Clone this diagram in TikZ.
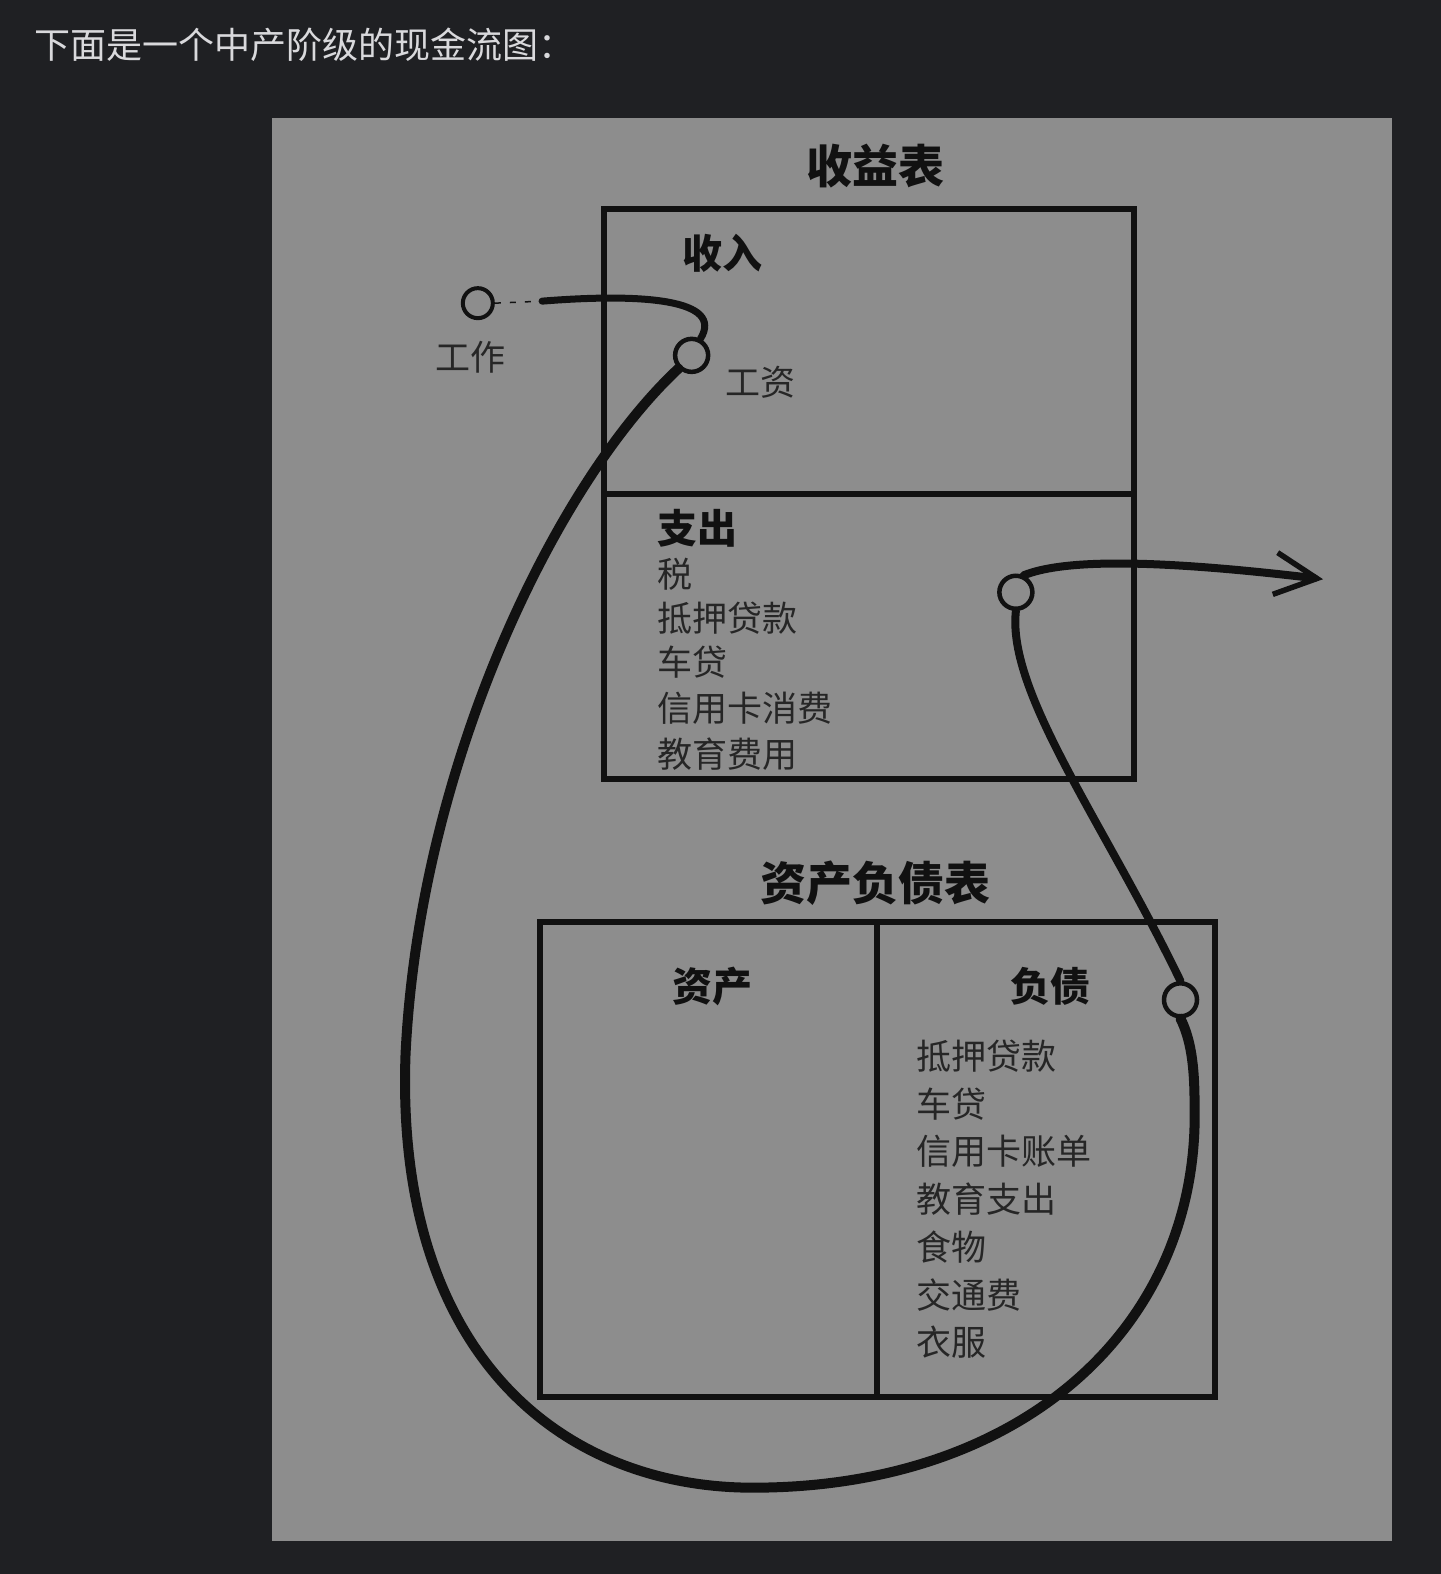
\documentclass[tikz,border=0pt]{standalone}
\usepackage{fontspec}
\newfontfamily\cjk{Noto Sans CJK SC}
\usetikzlibrary{arrows.meta}
\definecolor{bgdark}{HTML}{1F2023}
\definecolor{panel}{HTML}{8D8D8D}
\definecolor{hdr}{HTML}{D9D9DC}
\definecolor{ink}{HTML}{111111}
\definecolor{itemink}{HTML}{262626}
\tikzset{
  headtxt/.style={font=\cjk\bfseries\fontsize{46}{50}\selectfont, text=ink, inner sep=0},
  subtxt/.style={font=\cjk\bfseries\fontsize{40}{44}\selectfont, text=ink, inner sep=0},
  itemtxt/.style={font=\cjk\fontsize{35}{40}\selectfont, text=itemink, anchor=west, inner sep=0},
  lbltxt/.style={font=\cjk\fontsize{35}{40}\selectfont, text=itemink, inner sep=0},
  boxline/.style={draw=ink, line width=6},
  dot/.style={circle, draw=ink, line width=4.5, minimum size=33, inner sep=0, fill=panel},
  flow/.style={draw=ink, line width=10, line cap=round},
}
\begin{document}
\begin{tikzpicture}[x=1.0035pt,y=-1.0035pt]
\useasboundingbox (0,0) rectangle (1435,1568);
\fill[bgdark] (0,0) rectangle (1435,1568);
\fill[panel] (271,118) rectangle (1387,1535);

% header
\node[anchor=west, inner sep=0, font=\cjk\fontsize{36}{40}\selectfont, text=hdr] (hdr) at (34,45) {下面是一个中产阶级的现金流图：};

% income statement
\node[headtxt] (inctitle) at (872,165) {收益表};
\draw[boxline] (602,208) rectangle (1130,776);
\draw[boxline] (602,492) -- (1130,492);
\node[subtxt] (income) at (720,252) {收入};
\node[subtxt] (expense) at (695,526) {支出};
\foreach \t/\y [count=\i] in {税/572, 抵押贷款/616, 车贷/660, 信用卡消费/706, 教育费用/751}
  \node[itemtxt] (exp\i) at (655,\y) {\t};

% balance sheet
\node[headtxt] (baltitle) at (872,880) {资产负债表};
\draw[boxline] (538,918) rectangle (1210,1392);
\draw[boxline] (874,918) -- (874,1392);
\node[subtxt] (assets) at (710,983) {资产};
\node[subtxt] (liab) at (1046,983) {负债};
\foreach \t/\y [count=\i] in {抵押贷款/1052, 车贷/1100, 信用卡账单/1147, 教育支出/1195, 食物/1242, 交通费/1290, 衣服/1337}
  \node[itemtxt] (lia\i) at (913,\y) {\t};

% dots and labels
\node[dot, minimum size=30, line width=4] (work) at (476,302) {};
\node[lbltxt] (worklbl) at (469,356) {工作};
\node[dot] (gz) at (689,354) {};
\node[lbltxt] (gzlbl) at (758,381) {工资};
\node[dot] (ec) at (1012,590) {};
\node[dot] (lc) at (1176,996) {};

% flows
\coordinate (w1) at (540,300);
\draw[draw=ink, line width=1.5, dash pattern=on 6pt off 9pt] (work.east) -- (w1);
\draw[flow, line width=7] (w1) .. controls (640,292) and (722,298) .. (gz.62);
\draw[flow] (gz.225) .. controls (555,480) and (418,760) .. (404,1050)
  .. controls (393,1350) and (560,1482) .. (750,1482)
  .. controls (1020,1482) and (1196,1320) .. (1190,1100)
  .. controls (1190,1060) and (1186,1035) .. (lc.south);
\draw[flow, line width=8] (lc.north) .. controls (1100,820) and (1003,690) .. (ec.south);
\coordinate (tip) at (1318,577);
\draw[flow, line width=8, -{Straight Barb[length=42pt,width=42pt,line width=5.5pt]}]
  (ec.65) .. controls (1060,557) and (1150,557) .. (tip);
\end{tikzpicture}
\end{document}
